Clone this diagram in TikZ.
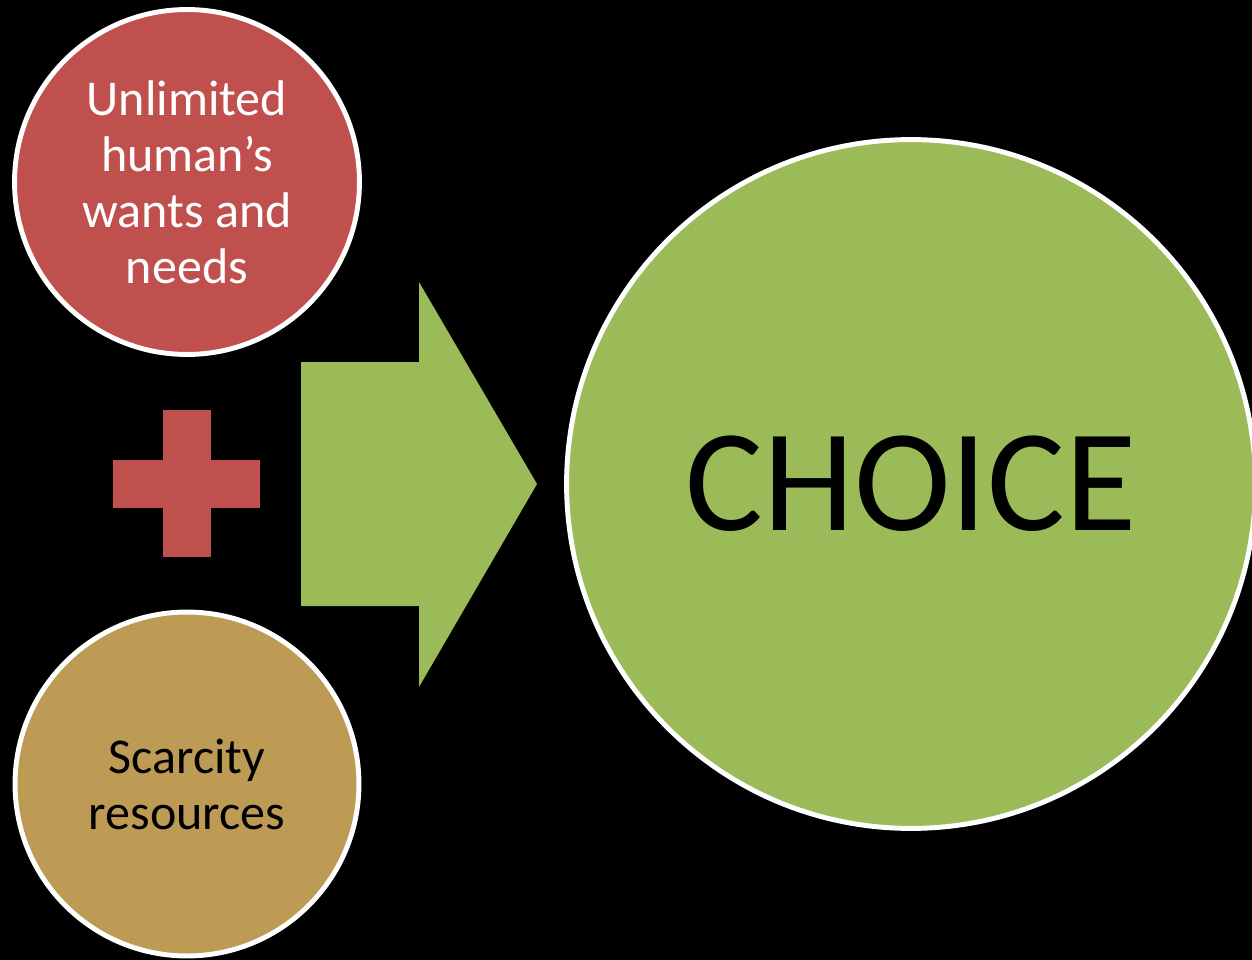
\documentclass[tikz,border=0pt]{standalone}
\usepackage{fontspec}
\setmainfont{Carlito}
\usetikzlibrary{positioning}

\definecolor{wantsred}{HTML}{C0504D}
\definecolor{scarcetan}{HTML}{BE9B54}
\definecolor{choicegreen}{HTML}{9BBB59}

\begin{document}
\begin{tikzpicture}[x=0.02cm,y=-0.02cm,
            bubble/.style={circle,draw=white,line width=2.8pt,align=center,inner sep=0pt,
                font=\fontsize{28.5}{31.9}\selectfont}]
            \fill[black] (0,0) rectangle (1252,960);
            \useasboundingbox (0,0) rectangle (1252,960);
            \clip (0,0) rectangle (1252,960);

            \coordinate (wantsc) at (187,182);
            \coordinate (scarcec) at (187,784);
            \coordinate (choicec) at (911,484);

            \node[bubble,fill=wantsred,text=white,minimum size=6.9cm] (wants) at (wantsc) {Unlimited\\human’s\\wants and\\needs};
            \node[bubble,fill=scarcetan,text=black,minimum size=6.88cm] (scarce) at (scarcec) {Scarcity\\resources};
            \node[bubble,fill=choicegreen,text=black,minimum size=13.78cm,
                font=\fontsize{83}{90}\selectfont] (choice) at (choicec) {CHOICE};

            % plus sign
            \fill[wantsred] (113,460) rectangle (260,508);
            \fill[wantsred] (163,410) rectangle (211,557);

            % big arrow
            \fill[choicegreen] (301,362) -- (419,362) -- (419,282) -- (537,484)
                -- (419,687) -- (419,606) -- (301,606) -- cycle;
\end{tikzpicture}
\end{document}
